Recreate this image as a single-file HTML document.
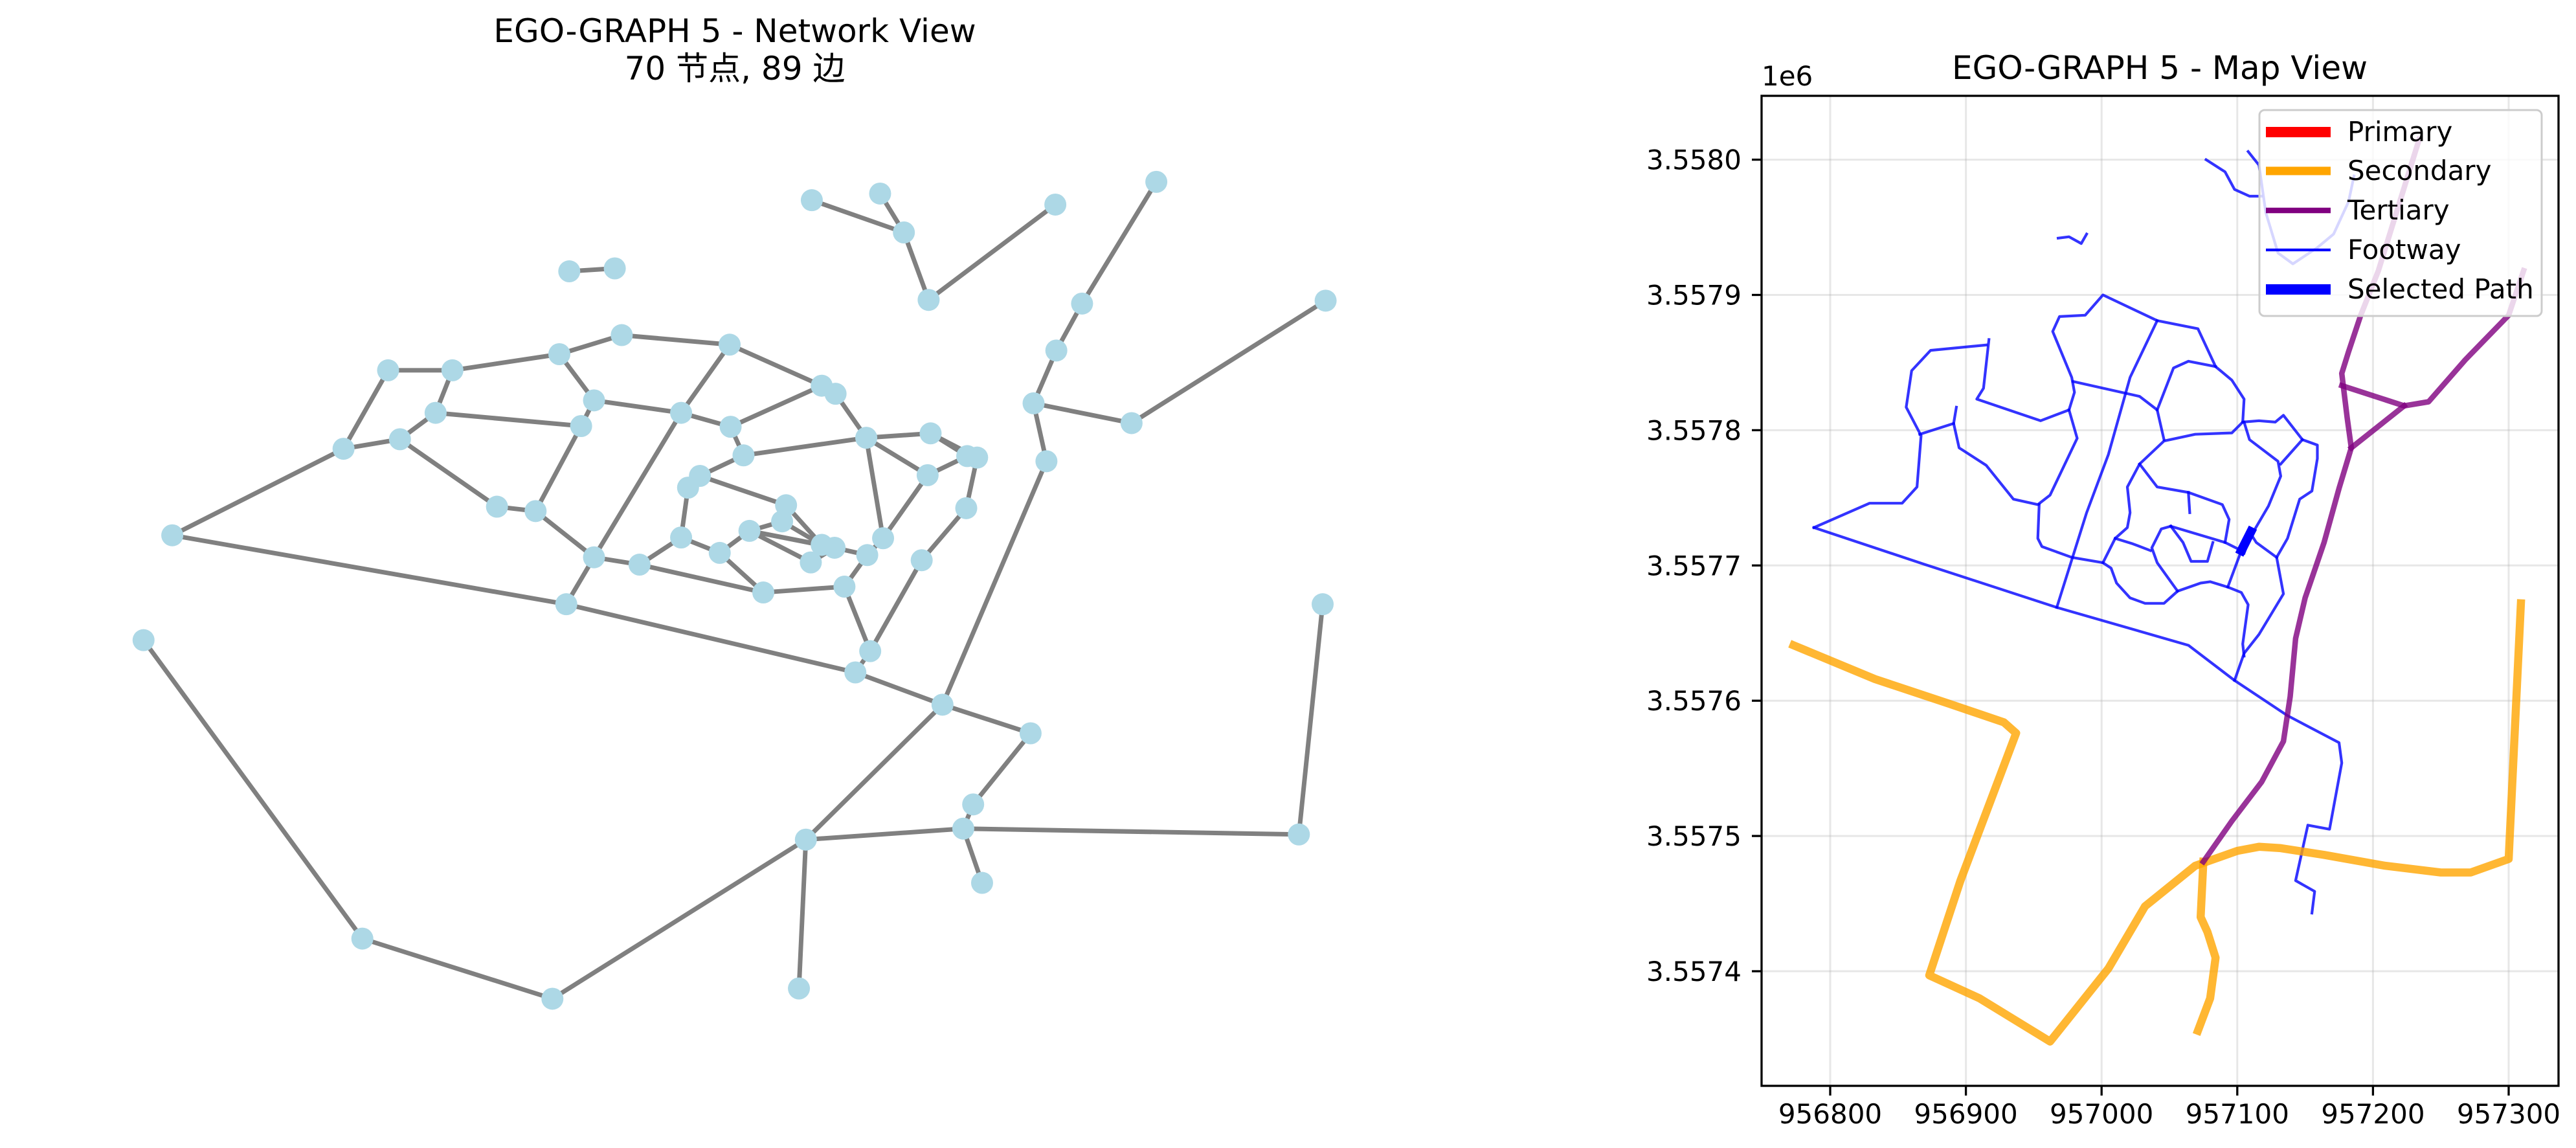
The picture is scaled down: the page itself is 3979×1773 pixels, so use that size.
<!DOCTYPE html>
<html><head><meta charset="utf-8">
<style>
html,body{margin:0;padding:0;background:#fff;}
svg{display:block;font-family:"DejaVu Sans","Liberation Sans","Noto Sans CJK SC",sans-serif;}
</style></head>
<body>
<svg id="fig" width="3979" height="1773" viewBox="0 0 3979 1773" xmlns="http://www.w3.org/2000/svg">
  <rect x="0" y="0" width="3979" height="1773" fill="#fff"/>
  <g>
    <text x="1135" y="65" font-size="50" text-anchor="middle">EGO-GRAPH 5 - Network View</text>
    <text x="1135" y="123" font-size="50" text-anchor="middle">70 节点, 89 边</text>
    <g id="edges"></g>
    <g id="nodes"></g>
  </g>
  <g>
    <text x="3336" y="122" font-size="50" text-anchor="middle">EGO-GRAPH 5 - Map View</text>
    <text x="2721" y="132" font-size="42">1e6</text>
    <defs><clipPath id="axclip"><rect x="2721" y="148" width="1231" height="1529"/></clipPath></defs>
    <g id="grid"></g>
    <g id="maplines" clip-path="url(#axclip)"></g>
    <g id="ticks"></g>
    <rect x="2721" y="148" width="1231" height="1529" fill="none" stroke="#000" stroke-width="3.3"/>
    <g>
      <rect x="3490" y="170" width="436" height="318" rx="8" fill="#fff" fill-opacity="0.8" stroke="#cccccc" stroke-width="3"/>
      <line x1="3500" y1="204" x2="3600" y2="204" stroke="#ff0000" stroke-width="16"/>
      <text x="3626" y="218" font-size="42">Primary</text>
      <line x1="3500" y1="264" x2="3600" y2="264" stroke="#ffa500" stroke-width="13"/>
      <text x="3626" y="278" font-size="42">Secondary</text>
      <line x1="3500" y1="325" x2="3600" y2="325" stroke="#800080" stroke-width="8.5"/>
      <text x="3626" y="339" font-size="42">Tertiary</text>
      <line x1="3500" y1="386" x2="3600" y2="386" stroke="#0000ff" stroke-width="4.2"/>
      <text x="3626" y="400" font-size="42">Footway</text>
      <line x1="3500" y1="447" x2="3600" y2="447" stroke="#0000ff" stroke-width="16"/>
      <text x="3626" y="461" font-size="42">Selected Path</text>
    </g>
  </g>
</svg>
<script>
// ---------- Network layout data (layout units) ----------
const nodeX = [820,889,913,938,1066,1168,1093,1067,1044,1143,1339,1057,575,621,628,737,565,457,392,440,404,347,174,600,587,688,738,830,844,875,940,751,977,987,937,976,707,695,502,541,794,790,757,688,727,830,843,819,892,876,931,600,646,771,853,572,879,864,952,1041,145,983,973,992,814,1312,1336,807,366,558];
const nodeY = [273,264,317,409,279,248,414,478,550,577,410,629,370,366,457,470,483,505,505,563,599,612,730,546,581,563,582,526,537,597,591,621,622,624,648,693,649,665,691,697,689,711,724,733,754,743,747,767,734,757,764,760,770,808,800,824,888,917,961,1000,873,1097,1130,1204,1145,1138,824,1348,1280,1362];
const edgeFrom = [0,1,2,3,5,6,7,8,9,8,12,16,14,15,27,28,29,30,32,29,32,33,35,34,17,18,18,17,19,20,21,19,16,23,23,25,26,31,31,24,20,38,39,15,25,51,36,37,40,41,42,42,42,43,43,44,44,51,52,53,54,46,49,54,50,22,55,57,58,58,11,59,61,62,62,62,65,64,64,69,68,40,41,30,27,47,45,56,48,26];
const edgeTo   = [2,2,3,4,6,7,8,9,10,11,13,14,15,27,28,29,30,32,34,34,33,35,50,48,16,17,21,19,20,21,22,24,23,24,25,26,31,29,36,39,38,39,51,25,51,55,40,43,45,42,45,47,46,52,44,42,53,52,53,54,49,49,48,56,56,55,57,58,59,64,58,61,62,63,64,65,66,67,69,68,60,41,45,33,28,46,46,57,29,27];

// ---------- Map data (offsets in metres from origin E0/N0) ----------
const E0 = 956800, N0 = 3557400;
const xTicks = [956800,956900,957000,957100,957200,957300];
const yTicks = [3557400,3557500,3557600,3557700,3557800,3557900,3558000];
const yTickLabels = ["3.5574","3.5575","3.5576","3.5577","3.5578","3.5579","3.5580"];
const secondary1 = [[-27,241],[33,216],[87,198],[128,184],[137,176],[96,67],[73,-3],[110,-20],[162,-52],[205,2],[232,48],[269,78],[300,89],[316,92],[332,91],[364,86],[409,78],[450,73],[472,73],[500,83],[509,272]];
const secondary2 = [[275,81],[273,40],[278,29],[284,10],[280,-20],[271,-44]];
const tertiary1 = [[275,81],[296,111],[318,140],[334,170],[339,203],[343,246],[350,276],[364,317],[375,357],[384,387],[381,409],[377,442],[382,458],[391,485],[404,518],[434,615]];
const tertiary2 = [[377,433],[423,418],[441,421],[468,452],[500,485],[511,518]];
const tertiary3 = [[384,387],[423,418]];
const footways = [
 [[-12,328],[29,346],[53,346],[64,358],[67,396],[56,417],[60,444],[74,459],[115,463]],
 [[-12,328],[69,301],[167,269],[264,241],[298,215],[337,189],[375,169],[377,154],[368,105],[352,108],[343,67],[357,59],[355,43]],
 [[117,467],[113,431],[108,423],[155,407],[176,415],[180,428],[178,439],[164,473],[169,484],[188,485],[201,500],[241,481],[271,475],[284,447],[296,437],[305,423],[304,406],[296,398],[269,397],[246,392],[228,375],[219,358],[221,339],[219,328],[210,320],[201,302]],
 [[66,397],[91,405],[95,387],[115,374],[135,349],[153,345],[162,352],[182,394],[176,415]],
 [[91,405],[93,417]],
 [[241,481],[221,439],[205,382],[189,339],[167,269]],
 [[179,436],[228,425],[241,415],[246,393]],
 [[241,415],[253,446],[264,451],[284,447]],
 [[304,406],[316,407],[328,406],[334,411],[348,393],[359,389],[359,379],[355,355],[346,349],[337,320],[329,306],[334,279],[316,249],[305,235],[298,215]],
 [[305,406],[309,393],[330,377],[332,366],[323,344],[309,320],[305,309]],
 [[348,393],[332,375]],
 [[329,306],[314,317],[309,325]],
 [[154,345],[153,320],[156,314],[178,306],[201,302],[207,298],[211,287],[221,276],[232,272],[246,272],[256,281],[273,287],[280,288],[293,284],[303,280],[308,271],[304,242],[305,233]],
 [[228,375],[241,358],[264,354],[289,345],[294,334],[291,317]],
 [[264,354],[265,339]],
 [[251,329],[260,317],[266,303],[278,303],[282,317]],
 [[251,329],[291,317],[303,311]],
 [[251,329],[244,327],[237,313],[241,302],[256,281]],
 [[210,320],[223,316],[236,311]],
 [[293,284],[303,311]],
 [[277,600],[291,591],[298,578],[309,573],[318,573]],
 [[308,606],[316,596],[321,561],[330,531],[341,523],[359,535],[371,545],[382,569],[386,588]],
 [[168,542],[176,543],[185,538],[189,545]]
];
const selectedPath = [[303,311],[310,325]];

// ---------- Scales ----------
const NS = 'http://www.w3.org/2000/svg';
function lx(v){ return v*1.5292; }
function ly(v){ return v*1.1325; }
function mx(e){ return 2827 + (e - E0)*2.096; }
function my(n){ return 1500 - (n - N0)*2.089; }
function mk(tag, attrs, parent){ const el=document.createElementNS(NS,tag); for(const k in attrs) el.setAttribute(k, attrs[k]); parent.appendChild(el); return el; }

// ---------- Network ----------
const gE = document.getElementById('edges'), gN = document.getElementById('nodes');
for(let i=0;i<edgeFrom.length;i++){
  const a=edgeFrom[i], b=edgeTo[i];
  const l = mk('line',{x1:lx(nodeX[a]),y1:ly(nodeY[a]),x2:lx(nodeX[b]),y2:ly(nodeY[b]),stroke:'#808080','stroke-width':7},gE);
  
  
}
for(let i=0;i<nodeX.length;i++){
  const c = mk('circle',{cx:lx(nodeX[i]),cy:ly(nodeY[i]),r:17,fill:'#add8e6'},gN);
  
  
}

// ---------- Map ----------
const gG = document.getElementById('grid'), gL = document.getElementById('maplines'), gT = document.getElementById('ticks');
xTicks.forEach(t=>{
  const x=mx(t);
  const g1 = mk('line',{x1:x,y1:148,x2:x,y2:1677,stroke:'#b0b0b0','stroke-opacity':0.3,'stroke-width':3},gG);
  
  
  const tk = mk('line',{x1:x,y1:1677,x2:x,y2:1692,stroke:'#000','stroke-width':3.3},gT);
  
  
  const tx = mk('text',{x:x,y:1735,'font-size':42,'text-anchor':'middle'},gT);
  tx.textContent = String(t);
  
  
});
yTicks.forEach((t,i)=>{
  const y=my(t);
  const g1 = mk('line',{x1:2721,y1:y,x2:3952,y2:y,stroke:'#b0b0b0','stroke-opacity':0.3,'stroke-width':3},gG);
  
  
  const tk = mk('line',{x1:2706,y1:y,x2:2721,y2:y,stroke:'#000','stroke-width':3.3},gT);
  
  
  const tx = mk('text',{x:2690,y:y+15,'font-size':42,'text-anchor':'end'},gT);
  tx.textContent = yTickLabels[i];
  
  
});
function pts(arr){ return arr.map(p=>mx(E0+p[0]).toFixed(1)+','+my(N0+p[1]).toFixed(1)).join(' '); }
function road(arr,color,w,op,name){
  const p = mk('polyline',{points:pts(arr),fill:'none',stroke:color,'stroke-width':w,'stroke-opacity':op,'stroke-linejoin':'round','stroke-linecap':'square'},gL);
  
  
}
footways.forEach(f=>road(f,'#0000ff',4.2,0.8,'footway-line'));
road(secondary1,'#ffa500',12.5,0.8,'secondary-road');
road(secondary2,'#ffa500',12.5,0.8,'secondary-road');
road(tertiary1,'#800080',8.5,0.8,'tertiary-road');
road(tertiary2,'#800080',8.5,0.8,'tertiary-road');
road(tertiary3,'#800080',8.5,0.8,'tertiary-road');
road(selectedPath,'#0000ff',14,1,'selected-path');
</script>
</body></html>
